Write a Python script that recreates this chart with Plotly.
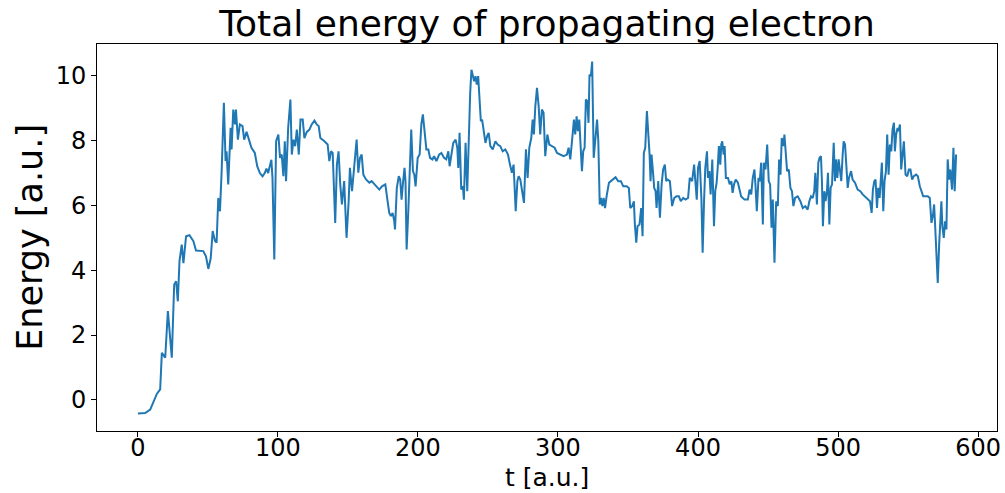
import plotly.graph_objects as go

t = [0, 5.2, 8.8, 11.2, 13.5, 15.9, 17.1, 19.5, 21.4, 24.2, 25.9, 27.3, 28.5, 29.7, 31.3, 32.5, 34.4, 36.8, 39.6, 41.5, 46.7, 48.6, 50.3, 52, 53.4, 55, 56.2, 57.4, 58.6, 59.8, 61.4, 62.6, 63.3, 64.5, 66.2, 66.9, 68.1, 69.3, 70, 71.4, 72.8, 74.7, 75.9, 77.6, 79.5, 81.1, 83.5, 85.2, 87.1, 89, 90.6, 91.8, 93, 94.2, 95.3, 96.1,
     97.4, 98.7, 100.3, 101.5, 102.7, 103.9, 104.9, 105.8, 107.3, 108.9, 109.9, 111.1, 112.3, 113.5, 114.9, 116.1, 117.7, 118.9, 120.6, 122.5, 124.1, 126.1, 127.7, 129.1, 130.3, 133.2, 135.5, 136.7, 137.9, 139.1, 140.9, 142.1, 143.3, 144.5, 145.7, 147.3, 149, 150.5, 151.4, 152.9, 154.1, 155.3, 156.2, 157.4, 158.6, 159.8, 161, 162.9, 165.3, 166.9, 168.8, 170.5, 172.4, 174.3, 176.7, 178.3, 179.5, 180.7, 181.9, 183.1, 183.6, 184.9, 186.3, 187.3, 188.3, 189.2, 190.4, 191.1, 191.9, 193.1, 194.1, 195.2, 196.4, 197.4, 198.3, 199.8,
     201.2, 202.4, 203.5, 205, 206, 207.4, 208.6, 210.3, 211.5, 213.2, 215.1, 216.7, 218.6, 220.2, 221.7, 222.6, 223.8, 225.2, 226.9, 228.1, 228.8, 229.7, 230.9, 232.1, 232.8, 234, 235.2, 236.3, 237.3, 238.2, 239.2, 240.1, 241.1, 242, 243, 243.9, 244.9, 245.8, 247, 248.2, 249.4, 250.5, 251.7, 253.4, 255.3, 256.9, 258.8, 260.5, 262.4, 264.3, 265.7, 267.1, 268.3, 269.8, 271, 271.9, 273.1, 274.3, 275.7, 277.1, 278.3, 279.5, 280.9, 281.9, 282.8, 283.8, 285, 286.2, 287.3, 288.5, 289.7, 290.9, 292.4, 293.8, 295.7, 297.6, 299.3, 301.6, 304, 306.4, 307.6, 308.8, 310, 311.4, 312.3, 313.3, 314.2, 315.2, 316.1, 317.1, 318, 319, 319.9, 320.9, 321.8, 322.5, 323.5, 324.4,
     325.5, 326.9, 327.9, 328.8, 329.8, 330.7, 331.7, 332.6, 333.6, 334.7, 336.4, 337.8, 339.5, 341.1, 343, 344.9, 346.6, 349, 350.6, 351.6, 353, 354.2, 354.9, 355.9, 356.8, 358.2, 359.4, 360.4, 361.3, 362.3, 363.5, 364.4, 365.4, 366.1, 366.8, 367.8, 368.7, 369.7, 370.4, 371.6, 372.8, 374, 375.1, 376.3, 377.3, 378.2, 379.9, 381.5, 383, 384.6, 386.3, 387.7, 389.4, 391, 392.9, 394.1, 395.8, 397.2, 398.1, 399.1, 400, 401.2, 402.4, 403.3, 404.3, 405.2, 406.4, 407.1, 408.1, 409, 410.2, 411.4, 412.3, 413.3, 414.2, 414.9, 415.9, 416.6, 417.3, 418.3, 419, 419.9, 421.4, 422.6, 423.8, 424.7, 425.7, 426.9,
     428.5, 430.8, 433.2, 435.6, 436.8, 438, 439.1, 440.3, 441, 442, 443.2, 444.1, 445.1, 446.3, 447, 448.2, 449.4, 450.5, 451.5, 452.5, 453.4, 454.6, 455.8, 457, 457.9, 458.9, 459.8, 461, 461.7, 462.9, 463.6, 464.8, 466, 467.1, 468.1, 469.3, 471.2, 473.1, 474.8, 476.6, 478.3, 479.5, 480.7, 481.9, 483, 483.8, 484.9, 485.9, 486.8, 487.8, 488.5, 489.2, 490.2, 491.1, 492.1, 492.8, 493.8, 494.7, 495.7, 496.9, 497.8, 498.5, 499.5, 500.4, 501.4, 502.3, 503.3, 504, 505, 505.9, 506.9, 507.8, 509.3, 510.4, 512.1, 514, 515.9, 517.6, 519.2, 521.1, 522.8, 524, 524.9, 525.9, 526.8, 527.8, 528.7, 529.7, 530.6, 531.3, 532.3, 533.2, 534.2, 535.1, 536.1, 537, 538, 538.9, 539.9, 540.6, 541.5, 542.5, 543.2, 544.2, 545.1, 546.1, 547, 548.2, 549.4, 550.6, 551.7, 552.9, 554.1, 555.8, 557, 558.4, 559.6, 560.8, 562.4, 564.1, 565.5, 566.7, 567.7, 568.6, 569.3, 570.3, 571.2, 572.2, 573.1, 573.8, 574.5, 575.5, 576.4, 577.4, 578.3, 579.3, 580.2, 581.4, 582.4, 583.3, 584.3]

energy = [-0.42, -0.41, -0.30, -0.08, 0.18, 0.32, 1.45, 1.30, 2.74, 1.30, 3.56, 3.66, 3.04, 4.28, 4.79, 4.22, 5.05, 5.08, 4.90, 4.61, 4.59, 4.43, 4.04, 4.37, 5.21, 4.91, 4.85, 6.23, 5.82, 7.06, 9.17, 7.37, 7.67, 6.65, 8.40, 7.73, 8.96, 8.50, 8.96, 8.03, 8.50, 8.45, 8.03, 8.27, 7.98, 7.78, 7.62, 7.21, 7.00, 6.90, 7.00, 7.14, 7.00, 7.26, 7.41, 6.85,
          4.33, 7.98, 8.19, 7.47, 7.57, 6.90, 7.98, 6.75, 8.39, 9.27, 7.57, 8.03, 7.83, 8.34, 7.57, 8.65, 8.65, 8.08, 8.27, 8.34, 8.50, 8.62, 8.50, 8.45, 8.08, 7.98, 7.88, 7.37, 7.67, 7.62, 5.46, 7.26, 7.67, 6.65, 6.03, 6.75, 5.00, 6.13, 7.16, 6.44, 7.06, 7.73, 8.03, 7.01, 7.47, 7.57, 6.95, 6.80, 6.70, 6.75, 6.65, 6.59, 6.49, 6.59, 6.65, 6.13, 5.77, 5.67, 5.77, 5.51, 5.26, 6.54, 6.90, 6.80, 6.18, 6.65, 7.16, 6.75, 4.64, 5.82, 7.37, 8.34, 7.06, 6.95, 6.59, 7.47,
          7.57, 8.50, 8.81, 8.08, 7.73, 7.73, 7.47, 7.42, 7.52, 7.37, 7.57, 7.62, 7.47, 7.42, 7.67, 7.21, 7.62, 7.93, 8.03, 7.78, 7.16, 8.24, 6.49, 6.59, 6.18, 7.93, 6.44, 8.29, 9.48, 10.19, 10.04, 9.83, 9.99, 9.73, 9.99, 9.32, 8.60, 8.65, 8.29, 7.93, 8.14, 8.24, 7.83, 7.73, 7.98, 7.88, 7.83, 7.67, 7.73, 7.57, 7.26, 7.01, 7.26, 5.82, 6.75, 6.90, 6.80, 6.44, 6.08, 7.73, 6.85, 7.78, 8.08, 8.65, 8.19, 9.06, 9.63, 9.06, 8.19, 8.96, 8.86, 7.52, 8.19, 7.88, 7.83, 7.78, 7.62, 7.57, 7.52, 7.57, 7.78, 7.42, 7.98, 8.65, 8.19, 8.75, 8.29, 8.65, 7.88, 7.06, 7.67, 7.78, 9.27, 9.22, 8.55, 10.04, 9.99, 10.44,
          7.47, 8.29, 8.65, 7.98, 6.03, 6.23, 5.98, 6.23, 5.92, 6.28, 6.70, 6.75, 6.80, 6.87, 6.75, 6.75, 6.59, 6.59, 6.54, 5.92, 5.98, 6.13, 5.41, 4.85, 5.36, 5.41, 5.92, 5.05, 7.62, 7.78, 8.91, 8.39, 7.57, 6.75, 7.57, 7.06, 6.54, 6.44, 5.92, 6.75, 5.62, 6.65, 7.11, 7.26, 6.75, 6.80, 6.75, 5.98, 6.23, 6.28, 6.28, 6.13, 6.23, 6.18, 6.23, 6.85, 6.75, 7.26, 6.80, 6.18, 7.16, 7.37, 6.23, 4.54, 6.13, 7.16, 7.67, 6.85, 7.06, 6.34, 7.42, 5.36, 6.44, 6.70, 7.26, 7.83, 7.26, 7.88, 7.98, 7.57, 7.83, 6.85, 6.85, 6.65, 6.75, 6.39, 6.65, 6.80,
          6.70, 6.28, 6.18, 6.18, 6.49, 6.34, 6.85, 7.11, 6.65, 5.82, 6.85, 6.75, 7.32, 5.41, 7.32, 7.11, 7.88, 6.75, 6.65, 5.31, 6.18, 4.23, 6.13, 5.98, 7.42, 6.95, 8.08, 7.83, 8.19, 7.57, 7.06, 7.11, 6.54, 6.44, 5.98, 6.23, 6.28, 6.13, 5.92, 5.98, 5.87, 6.13, 6.28, 6.23, 6.44, 7.01, 6.03, 7.32, 7.47, 7.52, 6.75, 5.36, 6.44, 6.13, 6.44, 7.01, 5.41, 6.54, 6.65, 7.93, 6.75, 7.42, 6.85, 7.42, 7.06, 6.75, 7.57, 7.98, 7.88, 7.11, 6.54, 6.85, 7.06, 6.80, 6.70, 6.49, 6.44, 6.34, 6.28, 6.18, 6.13, 5.77, 6.49, 6.75, 6.80, 5.92, 6.54, 6.23, 6.85, 7.32, 5.82, 6.75, 7.06, 8.19, 6.95, 7.88, 7.67, 8.34, 8.55, 7.67, 8.19, 8.39, 8.29, 8.50, 7.11, 7.57, 7.98, 6.95, 6.90, 7.11, 7.11, 6.80, 6.90, 6.95, 6.90, 6.59, 6.44, 6.28, 6.28, 6.28, 6.23, 5.46, 5.67, 6.03, 5.41, 4.38, 3.61, 4.79, 5.92, 6.13, 5.36, 5.00, 5.51, 5.26, 7.42, 6.80, 7.11, 6.49, 7.78, 6.44, 7.57]

x_ticks = [0, 100, 200, 300, 400, 500, 600]
y_ticks = [0, 2, 4, 6, 8, 10]

title_text = "Total energy of propagating electron"
x_label = "t [a.u.]"
y_label = "Energy [a.u.]"

FONT = "DejaVu Sans"

def padded(vals, frac=0.05):
    lo, hi = min(vals), max(vals)
    span = hi - lo
    return [lo - frac * span, hi + frac * span]

fig = go.Figure()
fig.add_trace(go.Scatter(x=t, y=energy, mode="lines",
                         line=dict(color="#1f77b4", width=2), showlegend=False))

axis_common = dict(showline=True, linecolor="black", linewidth=1, mirror=True,
                   ticks="outside", ticklen=5, tickwidth=1, tickcolor="black",
                   showgrid=False, zeroline=False,
                   tickfont=dict(family=FONT, size=24, color="black"))

fig.update_xaxes(range=padded(t), tickvals=x_ticks, ticktext=[str(v) for v in x_ticks],
                 ticklabelstandoff=-10, **axis_common)
fig.update_yaxes(range=padded(energy), tickvals=y_ticks, ticktext=[str(v) for v in y_ticks],
                 **axis_common)

fig.update_layout(
    width=1005, height=493,
    margin=dict(l=97, r=4, t=44, b=62),
    paper_bgcolor="white", plot_bgcolor="white",
    title=dict(text=title_text, x=0.5, xref="paper", xanchor="center",
               y=1 - 23.5 / 493, yref="container", yanchor="middle",
               font=dict(family=FONT, size=36, color="black")),
    annotations=[
        dict(text=x_label, xref="paper", yref="paper", x=0.5, y=-47 / 387,
             xanchor="center", yanchor="middle", showarrow=False,
             font=dict(family=FONT, size=25, color="black")),
        dict(text=y_label, xref="paper", yref="paper", x=-68 / 904, y=0.5,
             xanchor="center", yanchor="middle", textangle=-90, showarrow=False,
             font=dict(family=FONT, size=35, color="black")),
    ],
)

fig.write_html("out.html", config={"displayModeBar": False},
               post_script="document.body.style.margin='0';document.body.style.overflow='hidden';")
